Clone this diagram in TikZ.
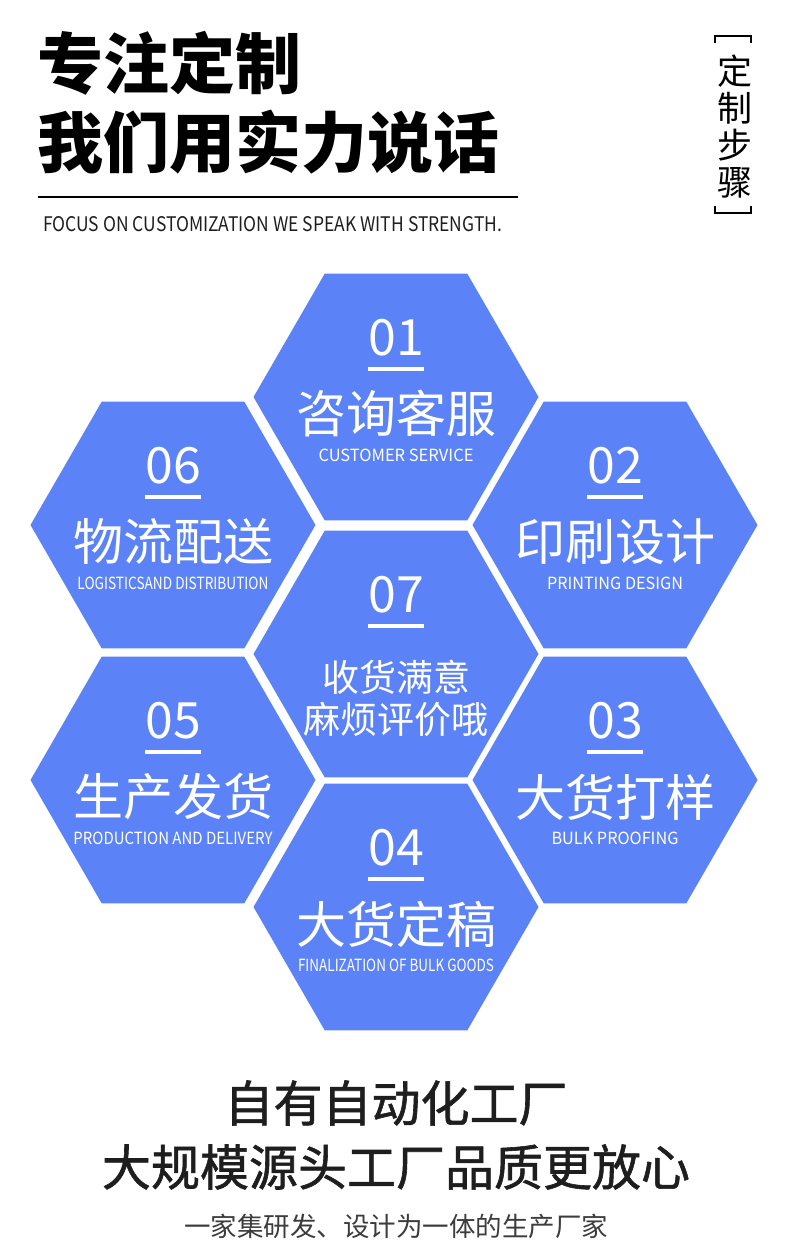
\documentclass[tikz,border=0pt]{standalone}
\usepackage{fontspec}
\setmainfont{Noto Sans CJK SC}
\newfontfamily\medfont[FakeBold=1.2]{Noto Sans CJK SC}
\usetikzlibrary{shapes.geometric,calc}
\definecolor{hexblue}{RGB}{91,131,247}
\definecolor{darktext}{RGB}{30,30,30}
\definecolor{graytext}{RGB}{60,60,60}
\newcommand{\fsz}[1]{\fontsize{#1}{#1}\selectfont}
\tikzset{
  hex/.style={regular polygon, regular polygon sides=6, minimum size=285pt,
              inner sep=0pt, outer sep=0pt, fill=hexblue, draw=none},
  num/.style={text=white, inner sep=0pt, font=\fsz{50}},
  cn/.style={text=white, inner sep=0pt, font=\fsz{50}},
  cnsmall/.style={text=white, inner sep=0pt, font=\fsz{37}},
  en/.style={text=white, inner sep=0pt},
  uline/.style={white, line width=3.2pt},
  title/.style={anchor=west, inner sep=0pt, font=\fsz{66}\bfseries},
}
\newcommand{\hexitem}[7]{%
  \node[hex] (#1) at (#2,#3) {};
  \node[num] (#1n) at ($(#1)+(0,-59)$) {#4};
  \coordinate (#1ua) at ($(#1)+(-28,-28)$);
  \coordinate (#1ub) at ($(#1)+(28,-28)$);
  \draw[uline] (#1ua) -- (#1ub);
  \node[cn] (#1c) at ($(#1)+(0,17)$) {#5};
  \node[en] (#1e) at ($(#1)+(0,58)$) {\resizebox{#7pt}{12.5pt}{#6}};
}
\begin{document}
\begin{tikzpicture}[x=1pt,y=-1pt]
\fill[white] (0,0) rectangle (790,1255);
\path[use as bounding box] (0,0) rectangle (790,1255);

% title
\node[title] (t1) at (37,63) {专注定制};
\node[title] (t2) at (37,142) {我们用实力说话};
\coordinate (la) at (38,197);
\coordinate (lb) at (518,197);
\draw[line width=1.3pt, black] (la) -- (lb);
\node[anchor=west, inner sep=0pt, text=darktext] (fo) at (43,224)
  {\resizebox{459pt}{15pt}{FOCUS ON CUSTOMIZATION WE SPEAK WITH STRENGTH.}};

% vertical label
\node[inner sep=0pt, align=center, font=\fontsize{35}{37}\selectfont] (vt) at (735,126.5) {定\\制\\步\\骤};
\coordinate (b1) at (715,43);
\coordinate (b2) at (715,36);
\coordinate (b3) at (751,36);
\coordinate (b4) at (751,43);
\draw[line width=1.8pt] (b1) -- (b2) -- (b3) -- (b4);
\coordinate (c1) at (715,206);
\coordinate (c2) at (715,213);
\coordinate (c3) at (751,213);
\coordinate (c4) at (751,206);
\draw[line width=1.8pt] (c1) -- (c2) -- (c3) -- (c4);

% hexagons
\hexitem{h1}{396}{397}{01}{咨询客服}{CUSTOMER SERVICE}{155}
\hexitem{h2}{615}{525}{02}{印刷设计}{PRINTING DESIGN}{136}
\hexitem{h3}{615}{780}{03}{大货打样}{BULK PROOFING}{127}
\hexitem{h4}{396}{907}{04}{大货定稿}{FINALIZATION OF BULK GOODS}{196}
\hexitem{h5}{173}{780}{05}{生产发货}{PRODUCTION AND DELIVERY}{199}
\hexitem{h6}{173}{525}{06}{物流配送}{LOGISTICSAND DISTRIBUTION}{191}

\node[hex] (h7) at (396,654) {};
\node[num] (h7n) at ($(h7)+(0,-59)$) {07};
\coordinate (h7ua) at ($(h7)+(-28,-28)$);
\coordinate (h7ub) at ($(h7)+(28,-28)$);
\draw[uline] (h7ua) -- (h7ub);
\node[cnsmall] (h7a) at ($(h7)+(0,23)$) {收货满意};
\node[cnsmall] (h7b) at ($(h7)+(0,66)$) {麻烦评价哦};

% bottom text
\node[inner sep=0pt, text=darktext, font=\fsz{49}\medfont] (bt1) at (396,1103) {自有自动化工厂};
\node[inner sep=0pt, text=darktext, font=\fsz{49}\medfont] (bt2) at (396,1167) {大规模源头工厂品质更放心};
\node[inner sep=0pt, text=graytext, font=\fsz{26.5}] (bt3) at (396,1226) {一家集研发、设计为一体的生产厂家};
\end{tikzpicture}
\end{document}
